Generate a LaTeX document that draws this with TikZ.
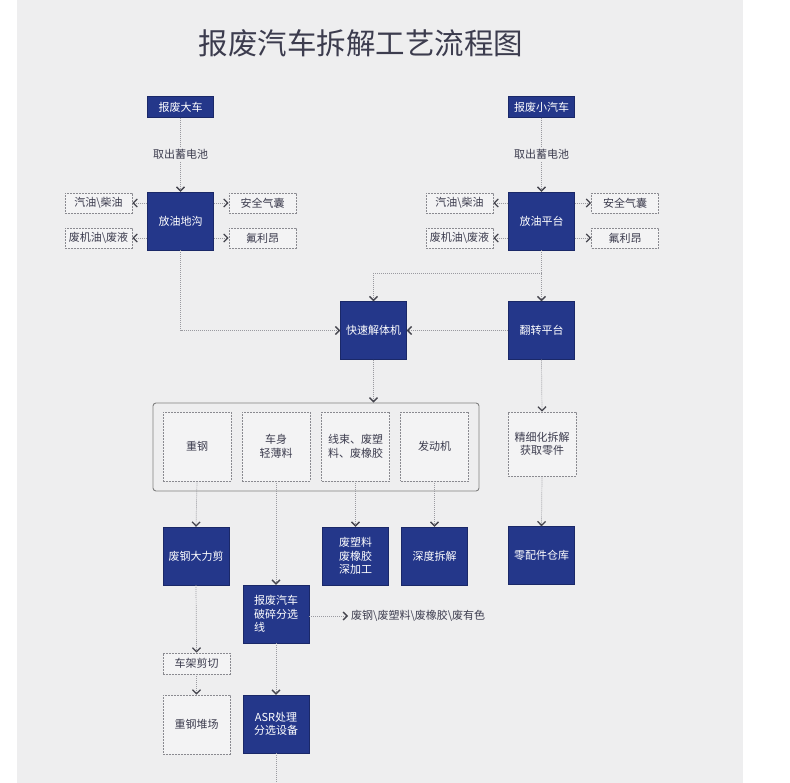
\documentclass[tikz,border=0pt]{standalone}
\usepackage{fontspec}
\setmainfont{Noto Sans CJK SC}
\usepackage{tikz}
\usetikzlibrary{arrows.meta, positioning}
\definecolor{pagegray}{HTML}{EEEEEF}
\definecolor{scrapblue}{HTML}{24378A}
\definecolor{scrapedge}{HTML}{1A2868}
\definecolor{dashgray}{HTML}{8A8A90}
\definecolor{boxfill}{HTML}{F3F3F4}
\definecolor{textgray}{HTML}{3C3C4E}
\definecolor{linegray}{HTML}{9A9AA0}
\definecolor{tipgray}{HTML}{45454E}

\begin{document}
\begin{tikzpicture}[x=1pt,y=-1pt,font=\fontsize{11}{13.5}\selectfont,
        mainbox/.style={draw=scrapedge, fill=scrapblue, text=white, minimum width=66pt, minimum height=58pt,
                inner sep=1pt, align=center},
        topbox/.style={mainbox, minimum height=21pt},
        sidebox/.style={draw=dashgray, dash pattern=on 2pt off 1pt, line width=0.7pt, fill=boxfill, text=textgray,
                minimum width=67pt, minimum height=20pt, inner sep=1pt, align=center},
        partbox/.style={sidebox, minimum width=68pt, minimum height=69pt},
        steplabel/.style={fill=pagegray, text=textgray, inner sep=2pt},
        flow/.style={draw=linegray, line width=0.7pt, dash pattern=on 1pt off 1pt,
                -{Straight Barb[length=4pt,width=8pt,color=tipgray,line width=1.3pt]}},
        plainflow/.style={draw=linegray, line width=0.7pt, dash pattern=on 1pt off 1pt}]
        \useasboundingbox (0,0) rectangle (790,783);
        \fill[pagegray] (17,0) rectangle (743,783);
        \node[text=textgray, font=\fontsize{29.5}{32}\selectfont] (title) at (361,43) {报废汽车拆解工艺流程图};

        \node[topbox] (bigtruck) at (180.5,107) {报废大车};
        \node[topbox] (smallcar) at (541.5,107) {报废小汽车};
        \node[mainbox] (pitL) at (180.5,221) {放油地沟};
        \node[mainbox] (platR) at (541.5,221) {放油平台};
        \node[sidebox] (gasL) at (98.5,203) {汽油\textbackslash 柴油};
        \node[sidebox] (oilL) at (98.5,238) {废机油\textbackslash 废液};
        \node[sidebox] (airbagL) at (262.5,203) {安全气囊};
        \node[sidebox] (freonL) at (262.5,238) {氟利昂};
        \node[sidebox] (gasR) at (459.5,203) {汽油\textbackslash 柴油};
        \node[sidebox] (oilR) at (459.5,238) {废机油\textbackslash 废液};
        \node[sidebox] (airbagR) at (625,203) {安全气囊};
        \node[sidebox] (freonR) at (625,238) {氟利昂};

        \node[mainbox] (quick) at (373.5,330.5) {快速解体机};
        \node[mainbox] (flip) at (541.5,330.5) {翻转平台};
        \coordinate (splitR) at (541.5,273);

        \node[draw=gray, rounded corners=3pt, line width=0.9pt, minimum width=326pt, minimum height=88pt]
                (sortframe) at (316,447) {};
        \node[partbox] (heavy) at (197,446.5) {重钢};
        \node[partbox] (body) at (276,446.5) {车身\\轻薄料};
        \node[partbox] (wire) at (355.5,446.5) {线束、废塑\\料、废橡胶};
        \node[partbox] (engine) at (434.5,446.5) {发动机};
        \node[partbox, minimum height=64pt] (fine) at (542,444) {精细化拆解\\获取零件};

        \node[mainbox] (shear) at (196,556) {废钢大力剪};
        \node[mainbox] (plastic) at (355.5,556) {废塑料\\废橡胶\\深加工};
        \node[mainbox] (deep) at (434.5,556) {深度拆解};
        \node[mainbox] (parts) at (541.5,555.5) {零配件仓库};
        \node[mainbox, align=left] (shred) at (276,614) {报废汽车\\破碎分选\\线};
        \node[text=textgray, anchor=west, inner sep=3pt] (scrapout) at (348,616)
                {废钢\textbackslash 废塑料\textbackslash 废橡胶\textbackslash 废有色};

        \node[sidebox, minimum height=21pt] (frame) at (196.5,663.5) {车架剪切};
        \node[sidebox, minimum height=59pt] (yard) at (196.5,724.5) {重钢堆场};
        \node[mainbox] (asr) at (276,724) {ASR处理\\分选设备};
        \coordinate (asrEnd) at (276,783);

        \draw[flow] (bigtruck) -- node[steplabel] {取出蓄电池} (pitL);
        \draw[flow] (smallcar) -- node[steplabel] {取出蓄电池} (platR);
        \draw[flow] (gasL.east -| pitL.west) -- (gasL.east);
        \draw[flow] (oilL.east -| pitL.west) -- (oilL.east);
        \draw[flow] (airbagL.west -| pitL.east) -- (airbagL.west);
        \draw[flow] (freonL.west -| pitL.east) -- (freonL.west);
        \draw[flow] (gasR.east -| platR.west) -- (gasR.east);
        \draw[flow] (oilR.east -| platR.west) -- (oilR.east);
        \draw[flow] (airbagR.west -| platR.east) -- (airbagR.west);
        \draw[flow] (freonR.west -| platR.east) -- (freonR.west);

        \draw[flow] (pitL.south) |- (quick.west);
        \draw[flow] (flip.west) -- (quick.east);
        \draw[flow] (platR.south) -- (flip.north);
        \draw[flow] (splitR) -| (quick.north);
        \draw[flow] (quick.south) -- (quick.south |- sortframe.north);
        \draw[flow] (flip.south) -- (fine.north);

        \draw[flow] (heavy.south) -- (shear.north);
        \draw[flow] (body.south) -- (shred.north);
        \draw[flow] (wire.south) -- (plastic.north);
        \draw[flow] (engine.south) -- (deep.north);
        \draw[flow] (fine.south) -- (parts.north);
        \draw[flow] (shred.east |- scrapout.west) -- (scrapout.west);
        \draw[flow] (shear.south) -- (frame.north);
        \draw[flow] (frame.south) -- (yard.north);
        \draw[flow] (shred.south) -- (asr.north);
        \draw[plainflow] (asr.south) -- (asrEnd);
\end{tikzpicture}
\end{document}
